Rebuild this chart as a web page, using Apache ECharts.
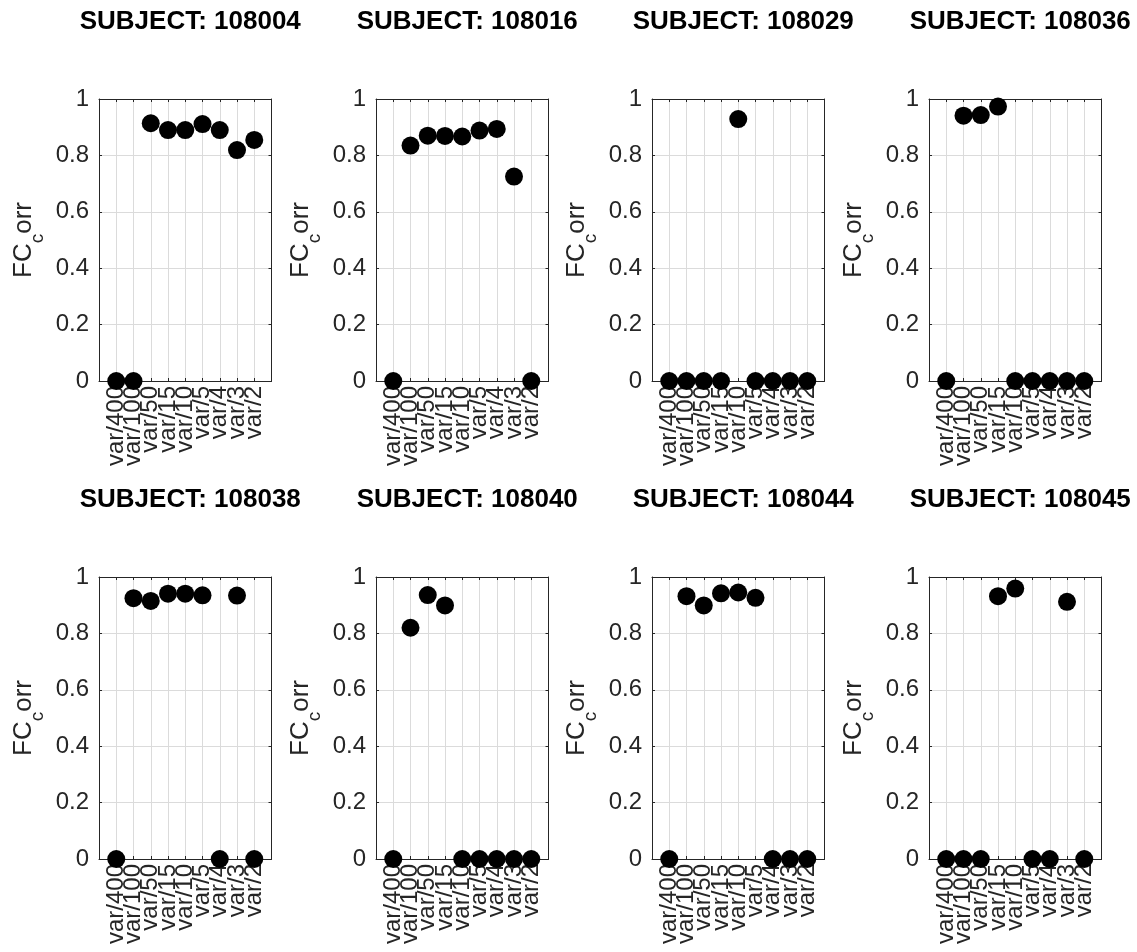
<!DOCTYPE html>
<html><head><meta charset="utf-8">
<script src="https://cdn.jsdelivr.net/npm/echarts@6/dist/echarts.min.js"></script>
<style>html,body{margin:0;padding:0;background:#fff}#c{width:1137px;height:952px}</style>
</head><body><div id="c"></div>
<script>
const categories = ['var/400','var/100','var/50','var/15','var/10','var/5','var/4','var/3','var/2'];
const subjects = ['108004','108016','108029','108036','108038','108040','108044','108045'];
const s108004 = [0, 0, 0.914, 0.890, 0.890, 0.911, 0.890, 0.819, 0.855];
const s108016 = [0, 0.835, 0.870, 0.869, 0.867, 0.888, 0.894, 0.725, 0];
const s108029 = [0, 0, 0, 0, 0.929, 0, 0, 0, 0];
const s108036 = [0, 0.941, 0.943, 0.973, 0, 0, 0, 0, 0];
const s108038 = [0, 0.925, 0.915, 0.941, 0.941, 0.935, 0, 0.934, 0];
const s108040 = [0, 0.820, 0.936, 0.899, 0, 0, 0, 0, 0];
const s108044 = [0, 0.932, 0.899, 0.942, 0.945, 0.926, 0, 0, 0];
const s108045 = [0, 0, 0, 0.932, 0.959, 0, 0, 0.912, 0];
const yTicks = [0, 0.2, 0.4, 0.6, 0.8, 1];
const allValues = [s108004, s108016, s108029, s108036, s108038, s108040, s108044, s108045];

const FONT = 'Liberation Sans, Helvetica, Arial, sans-serif';
const TXT = '#262626';
const colLeft = [99, 376, 652, 929];
const rowTop = [99, 577];
const W = 172.5, H = 282;
const titleY = [4, 482];

const grids = [], xAxes = [], yAxes = [], series = [], titles = [];
subjects.forEach((s, i) => {
  const r = Math.floor(i / 4), c = i % 4;
  grids.push({left: colLeft[c], top: rowTop[r], width: W, height: H, containLabel: false});
  titles.push({
    text: 'SUBJECT: ' + s, left: colLeft[c] + W / 2, top: titleY[r], textAlign: 'center',
    textStyle: {fontFamily: FONT, fontWeight: 'bold', fontSize: 26, color: '#000'}
  });
  const axLine = {show: true, onZero: false, lineStyle: {color: TXT, width: 1}};
  const tick = {show: true, inside: true, length: 3, lineStyle: {color: TXT}};
  xAxes.push({
    type: 'value', gridIndex: i, position: 'bottom', min: 0, max: categories.length + 1, interval: 1,
    axisLine: axLine, axisTick: tick,
    splitLine: {show: true, lineStyle: {color: '#dbdbdb', width: 1}},
    axisLabel: {
      rotate: 90, margin: 5, fontFamily: FONT, fontSize: 24, color: TXT,
      showMinLabel: true, showMaxLabel: true,
      formatter: v => (v >= 1 && v <= categories.length) ? categories[v - 1] : ''
    }
  });
  xAxes.push({
    type: 'value', gridIndex: i, position: 'top', min: 0, max: categories.length + 1, interval: 1,
    axisLine: axLine, axisTick: tick, splitLine: {show: false}, axisLabel: {show: false}
  });
  yAxes.push({
    type: 'value', gridIndex: i, position: 'left', min: yTicks[0], max: yTicks[yTicks.length - 1], interval: 0.2,
    axisLine: axLine, axisTick: tick,
    splitLine: {show: true, lineStyle: {color: '#dbdbdb', width: 1}},
    axisLabel: {margin: 10, fontFamily: FONT, fontSize: 24, color: TXT},
    name: '{a|FC}{b|c}{a|orr}', nameLocation: 'middle', nameGap: 52, nameRotate: 90,
    nameTextStyle: {
      fontFamily: FONT, color: TXT,
      rich: {
        a: {fontFamily: FONT, fontSize: 26, color: TXT, lineHeight: 30, verticalAlign: 'top'},
        b: {fontFamily: FONT, fontSize: 19, color: TXT, lineHeight: 36, verticalAlign: 'bottom'}
      }
    }
  });
  yAxes.push({
    type: 'value', gridIndex: i, position: 'right', min: yTicks[0], max: yTicks[yTicks.length - 1], interval: 0.2,
    axisLine: axLine, axisTick: tick, splitLine: {show: false}, axisLabel: {show: false}
  });
  series.push({
    type: 'scatter', xAxisIndex: 2 * i, yAxisIndex: 2 * i, symbol: 'circle', symbolSize: 18,
    itemStyle: {color: '#000', opacity: 1}, clip: false, z: 5,
    data: allValues[i].map((v, k) => [k + 1, v])
  });
});

const chart = echarts.init(document.getElementById('c'), null, {renderer: 'canvas'});
chart.setOption({
  animation: false, backgroundColor: '#fff',
  title: titles, grid: grids, xAxis: xAxes, yAxis: yAxes, series: series
});
</script></body></html>
